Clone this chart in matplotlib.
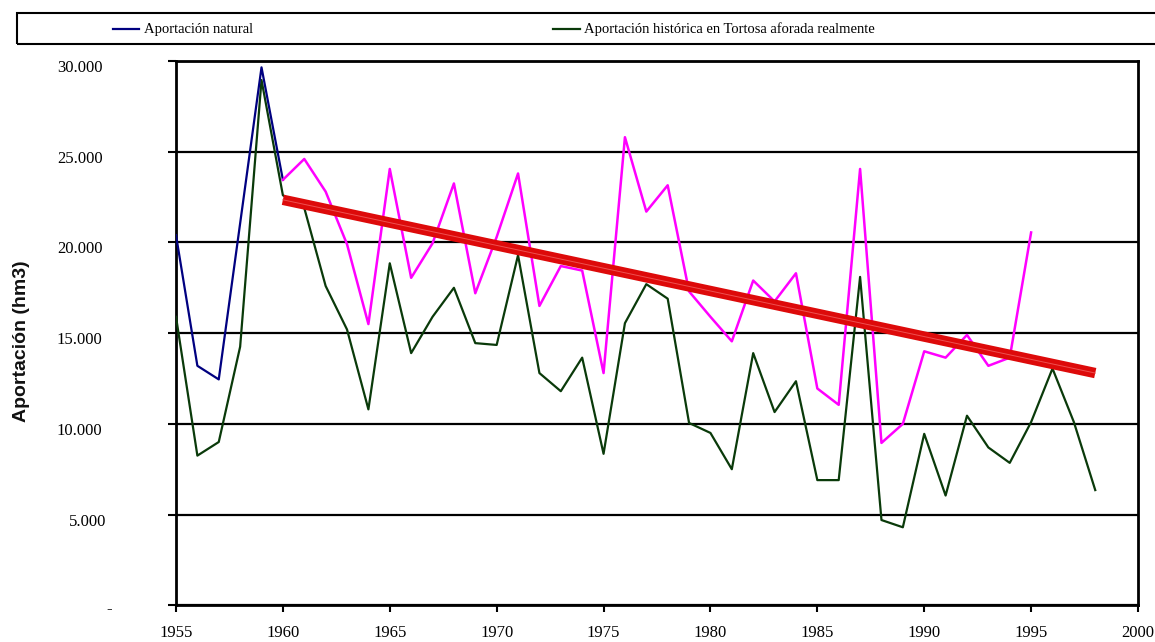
import matplotlib
matplotlib.use("Agg")
import matplotlib.pyplot as plt
import matplotlib.transforms as mtransforms
from matplotlib.lines import Line2D
from matplotlib.patches import Rectangle

# ---- data (hm3 per year) ----
years_natural_early = [1955, 1956, 1957, 1958, 1959, 1960]
natural_early = [20400, 13200, 12450, 21050, 29650, 23450]

years_natural_late = list(range(1960, 1996))
natural_late = [23450, 24600, 22800, 19900, 15500, 24050, 18050, 19950, 23250, 17200,
                20300, 23800, 16500, 18700, 18450, 12800, 25800, 21700, 23150, 17300,
                15900, 14550, 17900, 16750, 18300, 11950, 11050, 24050, 8950, 10000,
                14000, 13650, 14900, 13200, 13650, 20550]

years_hist = list(range(1955, 1999))
historical = [15900, 8250, 9000, 14250, 28950, 22600, 21900, 17600, 15200, 10800,
              18850, 13900, 15900, 17500, 14450, 14350, 19300, 12800, 11800, 13650,
              8350, 15550, 17700, 16900, 10050, 9500, 7500, 13900, 10650, 12350,
              6900, 6900, 18100, 4700, 4300, 9450, 6050, 10450, 8700, 7850,
              10100, 13050, 10100, 6350]

trend_years = [1960, 1998]
trend_values = [22350, 12800]

y_ticks = [0, 5000, 10000, 15000, 20000, 25000, 30000]
y_ticklabels = ["-", "5.000", "10.000", "15.000", "20.000", "25.000", "30.000"]
x_ticks = [1955, 1960, 1965, 1970, 1975, 1980, 1985, 1990, 1995, 2000]
x_ticklabels = [str(v) for v in x_ticks]

label_natural = "Aportación natural"
label_hist = "Aportación histórica en Tortosa aforada realmente"
y_title = "Aportación (hm3)"

# ---- figure ----
W, H = 1155, 642
fig = plt.figure(figsize=(W / 100, H / 100), dpi=100)
fig.patch.set_facecolor("white")

def fx(px):
    return px / W

def fy(py):
    return 1 - py / H

left, right, top, bottom = 176, 1138, 61, 605.3
ax = fig.add_axes([fx(left), fy(bottom), fx(right - left), (bottom - top) / H])
ax.set_xlim(1955, 2000)
ax.set_ylim(0, 30000)

serif = "Liberation Serif"

ax.plot(years_hist, historical, color="#0a3a0a", lw=1.6, zorder=3)
ax.plot(years_natural_early, natural_early, color="#000080", lw=1.6, zorder=4)
ax.plot(years_natural_late, natural_late, color="#ff00ff", lw=1.8, zorder=4)
ax.plot(trend_years, trend_values, color="#dd0a0a", lw=7.5, solid_capstyle="butt", zorder=5)
ax.plot(trend_years, trend_values, color="#ee5050", lw=0.7, zorder=6)

# grid and frame
ax.set_yticks(y_ticks)
ax.set_yticklabels(y_ticklabels, fontfamily=serif, fontsize=12)
ax.set_xticks(x_ticks)
ax.set_xticklabels(x_ticklabels, fontfamily=serif, fontsize=12)
ax.grid(axis="y", color="black", lw=1.6, zorder=1)
ax.set_axisbelow(True)
for sp in ax.spines.values():
    sp.set_linewidth(2)
    sp.set_color("black")
ax.tick_params(axis="y", direction="out", length=6, width=1.5, pad=47)
ax.tick_params(axis="x", direction="out", length=5, width=1.5, pad=9)

# per-label nudges of the y tick labels (pixels)
nudges = {"-": (10, -2), "5.000": (4, -5)}
for lab in ax.get_yticklabels():
    dx, dy = nudges.get(lab.get_text(), (0, -5))
    lab.set_transform(lab.get_transform() +
                      mtransforms.ScaledTranslation(dx / 100, dy / 100, fig.dpi_scale_trans))

fig.text(fx(22), fy(341), y_title, rotation=90, ha="center", va="center",
         fontfamily="Liberation Sans", fontweight="bold", fontsize=14, color="#111111")

# legend strip
fig.patches.append(Rectangle((fx(17), fy(44)), fx(1160 - 17), (44 - 13) / H,
                             transform=fig.transFigure, fill=False,
                             edgecolor="black", lw=1.5))
fig.lines.append(Line2D([fx(113), fx(139)], [fy(29), fy(29)], transform=fig.transFigure,
                        color="#000080", lw=1.6))
fig.text(fx(144), fy(29), label_natural, ha="left", va="center",
         fontfamily=serif, fontsize=10.5)
fig.lines.append(Line2D([fx(553), fx(580)], [fy(29), fy(29)], transform=fig.transFigure,
                        color="#0a3a0a", lw=1.6))
fig.text(fx(584), fy(29), label_hist, ha="left", va="center",
         fontfamily=serif, fontsize=10.5)

fig.savefig("out.png", dpi=100)
